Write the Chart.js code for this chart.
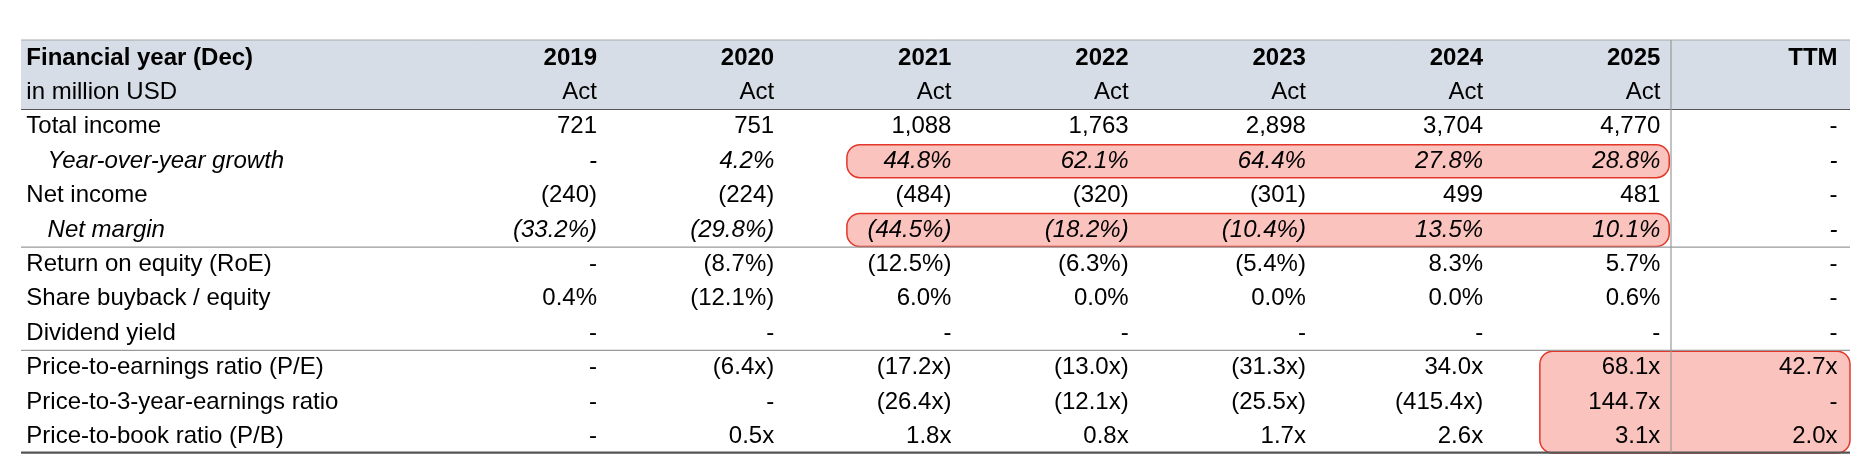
<!DOCTYPE html>
<html lang="en">
<head>
<meta charset="UTF-8">
<title>Financial table</title>
<style>
  body { margin: 0; background: #fff; }
  #wrap { width: 1864px; height: 466px; }
</style>
<script src="https://cdn.jsdelivr.net/npm/chart.js"></script>
</head>
<body>
<div id="wrap"><canvas id="tbl" width="1864" height="466"></canvas></div>
<script>
const years = ['2019', '2020', '2021', '2022', '2023', '2024', '2025', 'TTM'];
const yearType = ['Act', 'Act', 'Act', 'Act', 'Act', 'Act', 'Act', ''];
const rowLabels = [
  'Total income', 'Year-over-year growth', 'Net income', 'Net margin',
  'Return on equity (RoE)', 'Share buyback / equity', 'Dividend yield',
  'Price-to-earnings ratio (P/E)', 'Price-to-3-year-earnings ratio', 'Price-to-book ratio (P/B)'
];
const italicRows = [1, 3];
const totalIncome = ['721', '751', '1,088', '1,763', '2,898', '3,704', '4,770', '-'];
const yoyGrowth = ['-', '4.2%', '44.8%', '62.1%', '64.4%', '27.8%', '28.8%', '-'];
const netIncome = ['(240)', '(224)', '(484)', '(320)', '(301)', '499', '481', '-'];
const netMargin = ['(33.2%)', '(29.8%)', '(44.5%)', '(18.2%)', '(10.4%)', '13.5%', '10.1%', '-'];
const roe = ['-', '(8.7%)', '(12.5%)', '(6.3%)', '(5.4%)', '8.3%', '5.7%', '-'];
const buyback = ['0.4%', '(12.1%)', '6.0%', '0.0%', '0.0%', '0.0%', '0.6%', '-'];
const divYield = ['-', '-', '-', '-', '-', '-', '-', '-'];
const pe = ['-', '(6.4x)', '(17.2x)', '(13.0x)', '(31.3x)', '34.0x', '68.1x', '42.7x'];
const pe3 = ['-', '-', '(26.4x)', '(12.1x)', '(25.5x)', '(415.4x)', '144.7x', '-'];
const pb = ['-', '0.5x', '1.8x', '0.8x', '1.7x', '2.6x', '3.1x', '2.0x'];
const rows = [totalIncome, yoyGrowth, netIncome, netMargin, roe, buyback, divYield, pe, pe3, pb];

// highlighted regions: [colFrom, colTo, rowFrom, rowTo]
const highlights = [[2, 6, 1, 1], [2, 6, 3, 3], [6, 7, 7, 9]];

const FONT = '24px "Liberation Sans", Arial, sans-serif';

const tablePlugin = {
  id: 'tablePlugin',
  afterDraw(chart) {
    const ctx = chart.ctx;
    const xs = chart.scales.x, ys = chart.scales.y;
    const X = v => xs.getPixelForValue(v), Y = v => ys.getPixelForValue(v);
    const left = X(-3.25), right = X(7.07);
    ctx.save();
    // header background
    ctx.fillStyle = '#d7dde6';
    ctx.fillRect(left, Y(-2.52), right - left, Y(-0.5) - Y(-2.52));
    // highlights
    highlights.forEach(([c0, c1, r0, r1]) => {
      const x0 = c0 === 6 && r0 === 7 ? X(5.32) : X(c0 - 0.59);
      const x1 = c1 === 7 ? X(7.07) : X(c1 + 0.05);
      const y0 = Y(r0 - 0.48), y1 = Y(r1 + 0.48);
      ctx.beginPath();
      ctx.roundRect(x0, y0, x1 - x0, y1 - y0, 13);
      ctx.fillStyle = 'rgba(250,180,172,0.8)';
      ctx.fill();
      ctx.strokeStyle = '#e3372b';
      ctx.lineWidth = 1.5;
      ctx.stroke();
    });
    // lines
    const hline = (v, col, w) => {
      ctx.beginPath(); ctx.strokeStyle = col; ctx.lineWidth = w;
      ctx.moveTo(left, Y(v)); ctx.lineTo(right, Y(v)); ctx.stroke();
    };
    hline(-2.52, '#aaaaaa', 1);
    hline(-0.5, '#555555', 1.2);
    hline(3.5, '#999999', 1.2);
    hline(6.5, '#999999', 1.2);
    hline(9.47, '#555555', 2.4);
    ctx.beginPath(); ctx.strokeStyle = '#999999'; ctx.lineWidth = 1.2;
    ctx.moveTo(X(6.06), Y(-2.52)); ctx.lineTo(X(6.06), Y(9.47)); ctx.stroke();
    // text
    ctx.fillStyle = '#000';
    ctx.textBaseline = 'middle';
    ctx.font = 'bold ' + FONT;
    ctx.textAlign = 'left';
    ctx.fillText('Financial year (Dec)', X(-3.22), Y(-2));
    ctx.textAlign = 'right';
    years.forEach((y, i) => ctx.fillText(y, X(i), Y(-2)));
    ctx.font = FONT;
    ctx.textAlign = 'left';
    ctx.fillText('in million USD', X(-3.22), Y(-1));
    ctx.textAlign = 'right';
    yearType.forEach((t, i) => ctx.fillText(t, X(i), Y(-1)));
    rows.forEach((vals, r) => {
      const it = italicRows.includes(r);
      ctx.font = (it ? 'italic ' : '') + FONT;
      ctx.textAlign = 'left';
      ctx.fillText(rowLabels[r], X(it ? -3.1 : -3.22), Y(r));
      ctx.textAlign = 'right';
      vals.forEach((v, i) => ctx.fillText(v, X(i), Y(r)));
    });
    ctx.restore();
  }
};

new Chart(document.getElementById('tbl'), {
  type: 'scatter',
  data: { datasets: [] },
  options: {
    responsive: false,
    animation: false,
    layout: { padding: { left: 21, right: 14, top: 40, bottom: 13 } },
    plugins: { legend: { display: false }, tooltip: { enabled: false } },
    scales: {
      x: { type: 'linear', min: -3.25, max: 7.07, display: false },
      y: { type: 'linear', min: -2.52, max: 9.48, reverse: true, display: false }
    }
  },
  plugins: [tablePlugin]
});
</script>
</body>
</html>
